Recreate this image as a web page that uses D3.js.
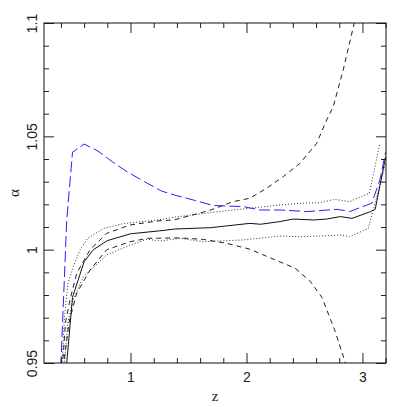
<!DOCTYPE html>
<html>
<head>
<meta charset="utf-8">
<script src="https://cdn.jsdelivr.net/npm/d3@7"></script>
<style>
  html, body { margin: 0; padding: 0; background: #fff; }
  svg { display: block; }
  .tick text { font-family: "Liberation Sans", Arial, sans-serif; font-size: 14px; fill: #222; }
</style>
</head>
<body>
<svg id="chart" width="407" height="407"></svg>
<script>
// ---- data ----
const xTicksMajor = [1, 2, 3];
const xTicksMinor = [0.4, 0.6, 0.8, 1.2, 1.4, 1.6, 1.8, 2.2, 2.4, 2.6, 2.8, 3.2];
const yTicksMajor = [0.95, 1.0, 1.05, 1.1];
const yTicksMinor = [0.96, 0.97, 0.98, 0.99, 1.01, 1.02, 1.03, 1.04, 1.06, 1.07, 1.08, 1.09];
const yTickLabels = ["0.95", "1", "1.05", "1.1"];

const solidZ = [0.43, 0.45, 0.50, 0.60, 0.68, 0.80, 1.00, 1.25, 1.38, 1.69, 2.03, 2.12, 2.29, 2.40, 2.58, 2.69, 2.81, 2.91, 3.07, 3.11, 3.20];
const solidA = [0.94, 0.95, 0.979, 0.9947, 1.0, 1.004, 1.0070, 1.0083, 1.0091, 1.0097, 1.0116, 1.0112, 1.0124, 1.0135, 1.0131, 1.0135, 1.0146, 1.0138, 1.0168, 1.0178, 1.041];

const dotUpZ = [0.40, 0.41, 0.43, 0.46, 0.507, 0.565, 0.63, 0.77, 0.94, 1.25, 1.375, 1.71, 2.03, 2.29, 2.46, 2.63, 2.76, 2.89, 3.06, 3.15];
const dotUpA = [0.94, 0.95, 0.97, 0.985, 0.9925, 1.0, 1.005, 1.0094, 1.0115, 1.0132, 1.0143, 1.0165, 1.0183, 1.0197, 1.0205, 1.0207, 1.0222, 1.0212, 1.0249, 1.047];

const dotLoZ = [0.42, 0.43, 0.46, 0.507, 0.593, 0.795, 0.996, 1.145, 1.254, 1.427, 1.63, 1.97, 2.29, 2.46, 2.63, 2.81, 2.89, 3.05, 3.20];
const dotLoA = [0.94, 0.95, 0.968, 0.978, 0.988, 0.9977, 1.002, 1.0046, 1.0038, 1.005, 1.0035, 1.0043, 1.006, 1.0057, 1.006, 1.0065, 1.0057, 1.0094, 1.038];

const dashUpZ = [0.405, 0.415, 0.44, 0.478, 0.536, 0.651, 0.795, 0.996, 1.254, 1.375, 1.687, 1.886, 2.03, 2.174, 2.317, 2.461, 2.605, 2.691, 2.748, 2.834, 2.929, 2.95];
const dashUpA = [0.94, 0.95, 0.968, 0.9778, 0.9896, 1.0, 1.0072, 1.0109, 1.0128, 1.0131, 1.0174, 1.0212, 1.0227, 1.0271, 1.0322, 1.0381, 1.0469, 1.0572, 1.0631, 1.0793, 1.0999, 1.105];

const dashLoZ = [0.415, 0.425, 0.47, 0.536, 0.651, 0.795, 0.996, 1.145, 1.427, 1.63, 1.83, 2.03, 2.2, 2.42, 2.55, 2.65, 2.76, 2.85, 2.88];
const dashLoA = [0.94, 0.95, 0.968, 0.9808, 0.991, 1.0, 1.0035, 1.005, 1.0052, 1.0045, 1.0028, 1.0002, 0.9965, 0.9918, 0.986, 0.979, 0.9646, 0.9506, 0.945];

const blueZ = [0.39, 0.40, 0.45, 0.50, 0.60, 0.72, 0.85, 0.97, 1.12, 1.27, 1.40, 1.55, 1.71, 1.97, 2.12, 2.30, 2.52, 2.78, 2.89, 3.08, 3.15, 3.20];
const blueA = [0.935, 0.95, 1.013, 1.043, 1.0466, 1.0435, 1.0385, 1.0344, 1.030, 1.0258, 1.0238, 1.0218, 1.0195, 1.019, 1.0175, 1.0175, 1.0168, 1.0178, 1.0168, 1.0205, 1.0307, 1.043];

// ---- layout ----
const mLeft = 44, mRight = 386, mTop = 23, mBottom = 363;
const svg = d3.select("#chart");
const x = d3.scaleLinear().domain([0.254, 3.203]).range([mLeft, mRight]);
const y = d3.scaleLinear().domain([0.95, 1.1]).range([mBottom, mTop]);

svg.append("defs").append("clipPath").attr("id", "clip")
  .append("rect").attr("x", mLeft).attr("y", mTop).attr("width", mRight - mLeft).attr("height", mBottom - mTop);

const lineGen = d3.line().x(d => x(d[0])).y(d => y(d[1]));
const zip = (zs, as) => zs.map((z, i) => [z, as[i]]);

const series = [
  { z: dotUpZ, a: dotUpA, color: "#333", dash: "1,2", w: 1 },
  { z: dotLoZ, a: dotLoA, color: "#333", dash: "1,2", w: 1 },
  { z: dashUpZ, a: dashUpA, color: "#222", dash: "5,4", w: 1 },
  { z: dashLoZ, a: dashLoA, color: "#222", dash: "5,4", w: 1 },
  { z: solidZ, a: solidA, color: "#111", dash: null, w: 1 },
  { z: blueZ, a: blueA, color: "#2222ff", dash: "11,4", w: 1 }
];

const plot = svg.append("g").attr("clip-path", "url(#clip)");
series.forEach(s => {
  plot.append("path")
    .attr("d", lineGen(zip(s.z, s.a)))
    .attr("fill", "none")
    .attr("stroke", s.color)
    .attr("stroke-width", s.w)
    .attr("stroke-dasharray", s.dash);
});

// ---- axes (ticks inward on all four sides) ----
function styleAxis(g) {
  g.select(".domain").remove();
  g.selectAll(".tick line").attr("stroke", "#222");
}
svg.append("g").attr("transform", `translate(0,${mBottom})`)
  .call(d3.axisBottom(x).tickValues(xTicksMinor).tickSize(-5).tickFormat(""))
  .call(styleAxis);
svg.append("g").attr("transform", `translate(0,${mBottom})`)
  .call(d3.axisBottom(x).tickValues(xTicksMajor).tickSize(-10).tickPadding(9).tickFormat(d3.format("d")))
  .call(styleAxis);
svg.append("g").attr("transform", `translate(0,${mTop})`)
  .call(d3.axisTop(x).tickValues(xTicksMinor).tickSize(-5).tickFormat(""))
  .call(styleAxis);
svg.append("g").attr("transform", `translate(0,${mTop})`)
  .call(d3.axisTop(x).tickValues(xTicksMajor).tickSize(-10).tickFormat(""))
  .call(styleAxis);

svg.append("g").attr("transform", `translate(${mLeft},0)`)
  .call(d3.axisLeft(y).tickValues(yTicksMinor).tickSize(-5).tickFormat(""))
  .call(styleAxis);
const yMaj = svg.append("g").attr("transform", `translate(${mLeft},0)`)
  .call(d3.axisLeft(y).tickValues(yTicksMajor).tickSize(-10).tickFormat((d, i) => yTickLabels[i]))
  .call(styleAxis);
yMaj.selectAll(".tick text")
  .attr("x", 0).attr("dy", 0)
  .attr("text-anchor", "middle")
  .attr("transform", "translate(-7,0) rotate(-90)");
svg.append("g").attr("transform", `translate(${mRight},0)`)
  .call(d3.axisRight(y).tickValues(yTicksMinor).tickSize(-5).tickFormat(""))
  .call(styleAxis);
svg.append("g").attr("transform", `translate(${mRight},0)`)
  .call(d3.axisRight(y).tickValues(yTicksMajor).tickSize(-10).tickFormat(""))
  .call(styleAxis);

svg.append("rect")
  .attr("x", mLeft).attr("y", mTop).attr("width", mRight - mLeft).attr("height", mBottom - mTop)
  .attr("fill", "none").attr("stroke", "#111").attr("stroke-width", 1);

// ---- axis titles ----
svg.append("text")
  .attr("x", (mLeft + mRight) / 2).attr("y", 401)
  .attr("text-anchor", "middle")
  .attr("font-family", "Liberation Serif, serif").attr("font-size", 15).attr("fill", "#222")
  .text("z");
svg.append("text")
  .attr("transform", `translate(19,${(mTop + mBottom) / 2}) rotate(-90)`)
  .attr("text-anchor", "middle")
  .attr("font-family", "Liberation Serif, serif").attr("font-size", 15).attr("fill", "#222")
  .text("α");
</script>
</body>
</html>
